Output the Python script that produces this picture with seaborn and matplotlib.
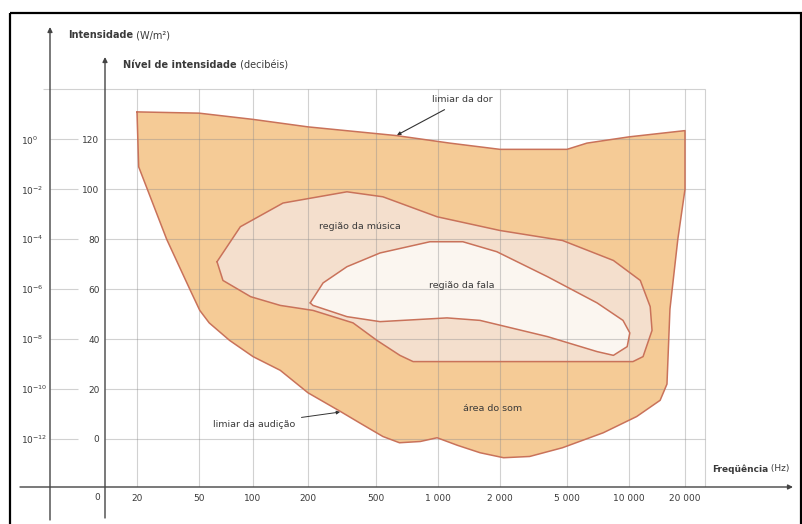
import numpy as np
import pandas as pd
import matplotlib
matplotlib.use("Agg")
import matplotlib.pyplot as plt
import matplotlib.transforms as mtransforms
from matplotlib.patches import Rectangle
import seaborn as sns

# ---------------- data ----------------
freq_ticks = [20, 50, 100, 200, 500, 1000, 2000, 5000, 10000, 20000]
freq_tick_labels = ["20", "50", "100", "200", "500", "1 000", "2 000",
                    "5 000", "10 000", "20 000"]
db_ticks = [0, 20, 40, 60, 80, 100, 120]
db_tick_labels = ["0", "20", "40", "60", "80", "100", "120"]
intensity_exponents = [-12, -10, -8, -6, -4, -2, 0]

# área do som (limiar da dor on top, limiar da audição below)
area_freq = [20, 50, 100, 200, 630, 1140, 2000, 5000, 6250, 10000, 20000,
             20000, 18300, 16600, 16000, 14700, 11000, 7500, 4700, 3000,
             2100, 1600, 1240, 990, 820, 650, 540, 400, 310, 200, 141, 100,
             74, 57, 50.5, 44, 31, 20.5]
area_db = [131, 130.5, 128, 125, 121.5, 118.5, 116, 116, 118.5, 121, 123.5,
           100, 80, 52, 22, 15.5, 9, 2.5, -3.5, -7, -7.5, -5.5, -2.5, 0.5,
           -1, -1.5, 1, 6.5, 11, 18.5, 27.5, 33, 39.5, 46.5, 51.5, 59.5, 80,
           109]

# região da música
music_freq = [63, 85, 146, 338, 540, 990, 2000, 4700, 8400, 11500, 13000,
              13300, 11900, 10500, 3830, 757, 653, 505, 367, 214, 141, 97, 68]
music_db = [71, 85, 94.5, 99, 97, 89, 83.5, 79.5, 71.5, 63.5, 53, 43.5, 33,
            31, 31, 31, 33.5, 39.5, 46.5, 51.5, 53.5, 57, 63.5]

# região da fala
speech_freq = [206, 245, 338, 523, 914, 1320, 1930, 3830, 7000, 9350, 10100,
               9800, 8400, 7000, 3830, 1600, 1106, 523, 338, 214]
speech_db = [54.5, 62.5, 69, 74.5, 79, 79, 75, 65, 54.5, 47.5, 42.5, 37,
             33.5, 35, 41, 47.5, 48.5, 47, 49, 53.5]

# ---------------- layout / style ----------------
W, H = 803, 524
grid_px = [137, 199, 253, 308, 376, 438, 500, 567, 629, 685]  # x of freq grid lines


def db_at(py):
    return (439 - py) / 2.497


LK = np.log10(np.array(freq_ticks, float))
PX = np.array(grid_px, float)
S_LO = (PX[1] - PX[0]) / (LK[1] - LK[0])
S_HI = (PX[-1] - PX[-2]) / (LK[-1] - LK[-2])


def fwd(f):
    f = np.asarray(f, float)
    with np.errstate(divide="ignore", invalid="ignore"):
        lf = np.log10(np.where(f > 0, f, np.nan))
    out = np.interp(lf, LK, PX)
    out = np.where(lf < LK[0], PX[0] + (lf - LK[0]) * S_LO, out)
    out = np.where(lf > LK[-1], PX[-1] + (lf - LK[-1]) * S_HI, out)
    return out


def inv(p):
    p = np.asarray(p, float)
    lf = np.interp(p, PX, LK)
    lf = np.where(p < PX[0], LK[0] + (p - PX[0]) / S_LO, lf)
    lf = np.where(p > PX[-1], LK[-1] + (p - PX[-1]) / S_HI, lf)
    return 10 ** lf


C_AREA = "#F5CB96"
C_MUSIC = "#F4DFCD"
C_SPEECH = "#FBF6F0"
C_EDGE = "#C9725A"
C_TEXT = "#3a3a3a"
C_AXIS = "#444444"
C_GRID = "#8c8c8c"

sns.set_style("white")
plt.rcParams["font.family"] = ["Liberation Sans Narrow", "DejaVu Sans"]
plt.rcParams["mathtext.default"] = "regular"

fig = plt.figure(figsize=(W / 100, H / 100), dpi=100)
ax = fig.add_axes([105 / W, (H - 487) / H, (790 - 105) / W, (487 - 58) / H])
ax.set_xscale("function", functions=(fwd, inv))
ax.patch.set_alpha(0)

# fills
ax.fill(area_freq, area_db, color=C_AREA, lw=0, zorder=1)
ax.fill(music_freq, music_db, color=C_MUSIC, lw=0, zorder=1.1)
ax.fill(speech_freq, speech_db, color=C_SPEECH, lw=0, zorder=1.2)

# outlines via seaborn
frames = []
for name, fx, fy in [("area", area_freq, area_db),
                     ("music", music_freq, music_db),
                     ("speech", speech_freq, speech_db)]:
    frames.append(pd.DataFrame({"freq": list(fx) + [fx[0]],
                                "dB": list(fy) + [fy[0]],
                                "region": name}))
df = pd.concat(frames, ignore_index=True)
sns.lineplot(data=df, x="freq", y="dB", hue="region", sort=False,
             estimator=None, palette={"area": C_EDGE, "music": C_EDGE,
                                      "speech": C_EDGE},
             lw=1.1, legend=False, ax=ax, zorder=3)

ylo, yhi = db_at(487), db_at(58)
# grid
gkw = dict(color=C_GRID, lw=0.8, alpha=0.4, zorder=2)
ax.vlines(freq_ticks, ylo, 140, **gkw)
ax.vlines([float(inv(705))], ylo, 140, **gkw)
ax.hlines(db_ticks, float(inv(105)), float(inv(705)), **gkw)
ax.hlines(db_ticks, float(inv(50)), float(inv(78)), clip_on=False, **gkw)
ax.hlines([140], float(inv(43)), float(inv(705)), clip_on=False, **gkw)

ax.set_xlim(float(inv(105)), float(inv(790)))
ax.set_ylim(ylo, yhi)
for s in ax.spines.values():
    s.set_visible(False)

ax.set_xticks(freq_ticks, labels=freq_tick_labels)
ax.xaxis.set_minor_locator(matplotlib.ticker.NullLocator())
ax.set_yticks(db_ticks, labels=db_tick_labels)
ax.tick_params(axis="x", direction="inout", length=4, width=0.8,
               color=C_AXIS, labelsize=6.5, labelcolor=C_TEXT, pad=3)
ax.tick_params(axis="y", direction="inout", length=4, width=0.8,
               color=C_AXIS, labelsize=6.5, labelcolor=C_TEXT, pad=2)
ax.set_xlabel("")
ax.set_ylabel("")

sec = ax.secondary_yaxis(-55 / 685, functions=(lambda d: (d - 120) / 10,
                                               lambda e: e * 10 + 120))
sec.set_yticks(intensity_exponents,
               labels=[f"$10^{{{e}}}$" for e in intensity_exponents])
sec.tick_params(length=0, labelsize=6.5, labelcolor=C_TEXT, pad=21)
for lab in sec.get_yticklabels():
    lab.set_horizontalalignment("left")
for s in sec.spines.values():
    s.set_visible(False)

# pixel transform for decorations
pxT = mtransforms.Affine2D().scale(1 / W, -1 / H).translate(0, 1) + fig.transFigure

arrow_kw = dict(arrowstyle="-|>", color=C_AXIS, lw=1.0, mutation_scale=7,
                shrinkA=0, shrinkB=0)
for (x0, y0, x1, y1) in [(50, 520, 50, 27), (105, 518, 105, 57),
                         (20, 487, 793, 487)]:
    ax.annotate("", xy=(x1, y1), xytext=(x0, y0), xycoords=pxT,
                textcoords=pxT, arrowprops=arrow_kw, annotation_clip=False)

fig.add_artist(Rectangle((10, 13), 791, 520, transform=pxT, fill=False,
                         lw=1.6, ec="black"))

# axis titles
t1 = fig.text(68, 35, "Intensidade", transform=pxT, fontsize=7,
              fontweight="bold", color=C_TEXT, va="center", ha="left")
ax.annotate(" (W/m²)", xy=(1, 0.5), xycoords=t1, va="center", ha="left",
            fontsize=7, color=C_TEXT, annotation_clip=False)
t2 = fig.text(123, 65, "Nível de intensidade", transform=pxT, fontsize=7,
              fontweight="bold", color=C_TEXT, va="center", ha="left")
ax.annotate(" (decibéis)", xy=(1, 0.5), xycoords=t2, va="center", ha="left",
            fontsize=7, color=C_TEXT, annotation_clip=False)
t3 = fig.text(712, 469, "Freqüência", transform=pxT, fontsize=6.5,
              fontweight="bold", color=C_TEXT, va="center", ha="left")
ax.annotate(" (Hz)", xy=(1, 0.5), xycoords=t3, va="center", ha="left",
            fontsize=6.5, color=C_TEXT, annotation_clip=False)
fig.text(97, 498, "0", transform=pxT, fontsize=6.5, color=C_TEXT,
         va="center", ha="center")

# region labels
ax.text(400, 85, "região da música", fontsize=6.8, color=C_TEXT,
        ha="center", va="center", zorder=5)
ax.text(1300, 61.3, "região da fala", fontsize=6.8, color=C_TEXT,
        ha="center", va="center", zorder=5)
ax.text(1850, 12.4, "área do som", fontsize=6.8, color=C_TEXT,
        ha="center", va="center", zorder=5)
ax.annotate("limiar da dor", xy=(632, 121.7), xytext=(940, 135.8),
            fontsize=6.8, color=C_TEXT, ha="left", va="center", zorder=5,
            arrowprops=dict(arrowstyle="-|>", color="#333333", lw=0.8,
                            mutation_scale=5, shrinkA=3, shrinkB=0))
ax.annotate("limiar da audição", xy=(308, 10.8), xytext=(60, 6),
            fontsize=6.8, color=C_TEXT, ha="left", va="center", zorder=5,
            arrowprops=dict(arrowstyle="-|>", color="#333333", lw=0.7,
                            mutation_scale=5, shrinkA=2, shrinkB=0))

fig.savefig("out.png", dpi=100, facecolor="white")
